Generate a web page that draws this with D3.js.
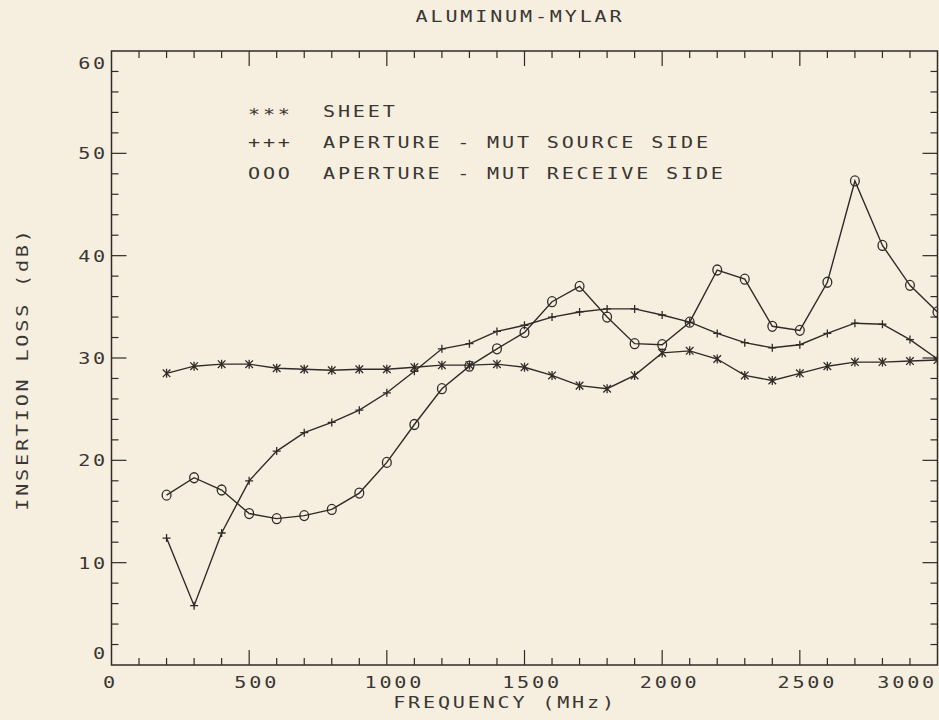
<!DOCTYPE html>
<html>
<head>
<meta charset="utf-8">
<script src="https://cdn.jsdelivr.net/npm/d3@7"></script>
<style>
  html, body { margin: 0; padding: 0; background: #f6efdf; }
  svg { display: block; }
  .plot-text { font-family: "DejaVu Sans Mono", "Liberation Mono", monospace; font-size: 16.5px; letter-spacing: 2.3px; fill: #3a3633; font-variant-numeric: slashed-zero; }
</style>
</head>
<body>
<svg id="chart" width="939" height="720"></svg>
<script>
// Insertion loss of an aluminum-mylar sample versus frequency
const frequencies = [200, 300, 400, 500, 600, 700, 800, 900, 1000, 1100, 1200, 1300, 1400, 1500,
  1600, 1700, 1800, 1900, 2000, 2100, 2200, 2300, 2400, 2500, 2600, 2700, 2800, 2900, 3000];

const sheet = [28.5, 29.2, 29.4, 29.4, 29.0, 28.9, 28.8, 28.9, 28.9, 29.1, 29.3, 29.3, 29.4, 29.1,
  28.3, 27.3, 27.0, 28.3, 30.5, 30.7, 29.9, 28.3, 27.8, 28.5, 29.2, 29.6, 29.6, 29.7, 29.8];

const sourceSide = [12.4, 5.8, 12.9, 18.0, 20.9, 22.7, 23.7, 24.9, 26.6, 28.7, 30.9, 31.4, 32.6, 33.2,
  34.0, 34.5, 34.8, 34.8, 34.2, 33.5, 32.4, 31.5, 31.0, 31.3, 32.4, 33.4, 33.3, 31.8, 29.9];

const receiveSide = [16.6, 18.3, 17.1, 14.8, 14.3, 14.6, 15.2, 16.8, 19.8, 23.5, 27.0, 29.2, 30.9, 32.5,
  35.5, 37.0, 34.0, 31.4, 31.3, 33.5, 38.6, 37.7, 33.1, 32.7, 37.4, 47.3, 41.0, 37.1, 34.5];

const xTickLabels = [0, 500, 1000, 1500, 2000, 2500, 3000];
const yTickLabels = [0, 10, 20, 30, 40, 50, 60];

const legendSymbols = ["***", "+++", "OOO"];
const legendLabels = ["SHEET", "APERTURE - MUT SOURCE SIDE", "APERTURE - MUT RECEIVE SIDE"];

const titleText = "ALUMINUM-MYLAR";
const xTitle = "FREQUENCY (MHz)";
const yTitle = "INSERTION LOSS (dB)";

const ink = "#2f2b28";
const svg = d3.select("#chart");

const x = d3.scaleLinear().domain([0, 3000]).range([111.5, 937.5]);
const y = d3.scaleLinear().domain([0, 60]).range([665, 51]);

const [x0, x1] = x.range();
const [y0, y1] = y.range();

// plotter-style lettering: monospace glyphs widened horizontally
function letter(str, px, py, anchor, rot) {
  let tf = `translate(${px},${py})`;
  if (rot) tf += ` rotate(${rot})`;
  tf += " scale(1.22,1)";
  return svg.append("text")
    .attr("class", "plot-text")
    .attr("transform", tf)
    .attr("text-anchor", anchor)
    .text(str);
}

// frame
svg.append("rect")
  .attr("x", x0).attr("y", y1)
  .attr("width", x1 - x0).attr("height", y0 - y1)
  .attr("fill", "none").attr("stroke", ink).attr("stroke-width", 1.5);

// inward ticks on all four sides
const tickG = svg.append("g").attr("stroke", ink).attr("stroke-width", 1.2);
const xMinor = x.ticks(30).filter(v => v > 0 && v < 3000);
const yMinor = y.ticks(30).filter(v => v > 0 && v < 60);
const lenX = v => (v % 500 === 0 ? 15 : 7);
const lenY = v => (v % 10 === 0 ? 15 : 7);

xMinor.forEach(v => {
  tickG.append("line").attr("x1", x(v)).attr("x2", x(v)).attr("y1", y0).attr("y2", y0 - lenX(v));
  tickG.append("line").attr("x1", x(v)).attr("x2", x(v)).attr("y1", y1).attr("y2", y1 + lenX(v));
});
yMinor.forEach(v => {
  tickG.append("line").attr("x1", x0).attr("x2", x0 + lenY(v)).attr("y1", y(v)).attr("y2", y(v));
  tickG.append("line").attr("x1", x1).attr("x2", x1 - lenY(v)).attr("y1", y(v)).attr("y2", y(v));
});

// tick labels
xTickLabels.forEach(v => {
  if (v === 0) letter(String(v), x(v) - 1, 687.5, "middle");
  else if (v === 3000) letter(String(v), x(v) - 0.5, 687.5, "end");
  else letter(String(v), x(v) + 7.5, 687.5, "middle");
});
yTickLabels.forEach(v => {
  let cy = y(v);
  if (v === 60) cy = y(v) + 12;
  if (v === 0) cy = y(v) - 12;
  letter(String(v), 108, cy + 6, "end");
});

// titles
letter(titleText, 520, 21.5, "middle");
letter(xTitle, 505, 708, "middle");
letter(yTitle, 28, 369, "middle", -90);

// legend
const legendRows = [116.5, 148, 179];
legendSymbols.forEach((s, i) => {
  letter(s, 248, legendRows[i] + (i === 0 ? 3.5 : 0), "start");
  letter(legendLabels[i], 323, legendRows[i], "start");
});

// data
svg.append("defs").append("clipPath").attr("id", "plot-clip")
  .append("rect").attr("x", x0).attr("y", y1).attr("width", x1 - x0).attr("height", y0 - y1);

const series = [
  { values: sheet, marker: "star" },
  { values: sourceSide, marker: "plus" },
  { values: receiveSide, marker: "circle" }
];

const line = d3.line().x(d => x(d[0])).y(d => y(d[1]));
const dataG = svg.append("g").attr("clip-path", "url(#plot-clip)");

series.forEach(s => {
  const pts = frequencies.map((f, i) => [f, s.values[i]]);
  dataG.append("path")
    .attr("d", line(pts))
    .attr("fill", "none").attr("stroke", ink).attr("stroke-width", 1.4);

  const mg = dataG.append("g").attr("stroke", ink).attr("stroke-width", 1.3).attr("fill", "none");
  pts.forEach(p => {
    const cx = x(p[0]), cy = y(p[1]);
    if (s.marker === "circle") {
      mg.append("ellipse").attr("cx", cx).attr("cy", cy).attr("rx", 4.4).attr("ry", 5);
    } else if (s.marker === "plus") {
      mg.append("path").attr("d", `M${cx - 4},${cy}H${cx + 4}M${cx},${cy - 4}V${cy + 4}`);
    } else {
      mg.append("path").attr("d",
        `M${cx - 3.8},${cy - 3.8}L${cx + 3.8},${cy + 3.8}M${cx - 3.8},${cy + 3.8}L${cx + 3.8},${cy - 3.8}M${cx},${cy - 4.5}V${cy + 4.5}`);
    }
  });
});
</script>
</body>
</html>
